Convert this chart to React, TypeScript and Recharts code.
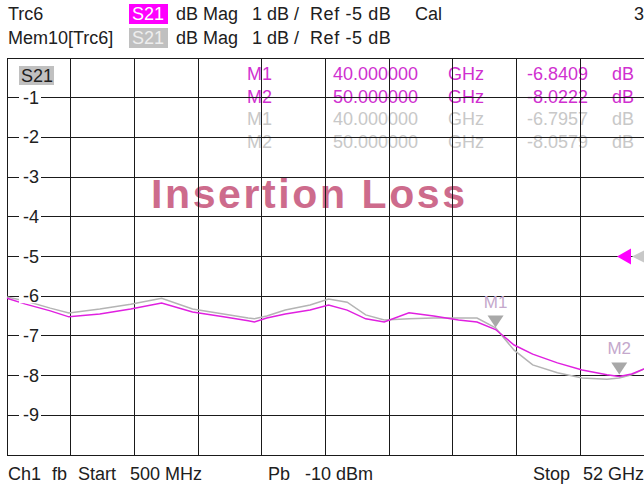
import React from 'react';
import { LineChart, Line, XAxis, YAxis, CartesianGrid, ReferenceDot } from 'recharts';

// sweep points (GHz) and the two traces (dB)
const freqGHz = [0.5, 2, 4, 5.5, 8, 10.5, 13, 15.5, 18, 20, 20.5, 21.5, 23, 25, 26.5, 28, 29.5, 31, 33, 35, 37, 38.5, 40, 41.5, 43, 45, 47, 49, 50, 51, 52];
const trc6 = [-6.05, -6.2, -6.37, -6.52, -6.45, -6.32, -6.17, -6.4, -6.52, -6.62, -6.65, -6.55, -6.45, -6.35, -6.22, -6.35, -6.57, -6.65, -6.42, -6.5, -6.6, -6.65, -6.84, -7.23, -7.46, -7.68, -7.86, -7.98, -8.02, -7.96, -7.83];
const mem10 = [-6.02, -6.12, -6.3, -6.42, -6.32, -6.2, -6.05, -6.32, -6.45, -6.55, -6.57, -6.5, -6.35, -6.22, -6.07, -6.15, -6.47, -6.6, -6.57, -6.55, -6.55, -6.55, -6.8, -7.36, -7.73, -7.93, -8.06, -8.09, -8.06, -7.98, -7.83];

const markerNames = ['M1', 'M2'];
const markerFreq = [40, 50];
const trcMarkerDb = [-6.8409, -8.0222];
const memMarkerDb = [-6.7957, -8.0579];

const xGrid = [0.5, 5.65, 10.8, 15.95, 21.1, 26.25, 31.4, 36.55, 41.7, 46.85, 52];
const yTicks = [-10, -9, -8, -7, -6, -5, -4, -3, -2, -1, 0];
const refLevel = -5;

const rows = freqGHz.map((f, i) => ({ f, trc: trc6[i], mem: mem10[i] }));

const FONT = '"Liberation Sans", Arial, sans-serif';
const MAGENTA = '#e020e0';
const GREY = '#b4b4b4';
const PLOT_LEFT = 7;

const YTick = (props: any) => {
  const v = props.payload?.value;
  if (v === 0 || v === -10) return null;
  const y = props.y;
  return (
    <g>
      <rect x={PLOT_LEFT + 12} y={y - 7} width={22} height={14} fill="#fff" />
      <text x={PLOT_LEFT + 16} y={y + 6} fontSize={18} fontFamily={FONT} fill="#202020">{v}</text>
    </g>
  );
};

const NoTick = () => <g />;

const markerShape = (label: string) => (p: any) => (
  <g>
    <text x={p.cx} y={p.cy - 22} textAnchor="middle" fontSize={17} fontFamily={FONT} fill="#c4a8cc">{label}</text>
    <path d={`M${p.cx - 8},${p.cy - 14} L${p.cx + 8},${p.cy - 14} L${p.cx},${p.cy - 2} Z`} fill="#a8a8a8" />
  </g>
);

const refArrow = (p: any) => (
  <g>
    <path d={`M${p.cx - 12},${p.cy} L${p.cx + 4},${p.cy - 8} L${p.cx + 4},${p.cy + 8} Z`} fill="#c8c8c8" />
    <path d={`M${p.cx - 27},${p.cy} L${p.cx - 13},${p.cy - 8} L${p.cx - 13},${p.cy + 8} Z`} fill="#ff00ff" />
  </g>
);

const tableRows = [
  { name: markerNames[0], f: markerFreq[0], v: trcMarkerDb[0], color: '#d030d0', y: 80 },
  { name: markerNames[1], f: markerFreq[1], v: trcMarkerDb[1], color: '#d030d0', y: 103 },
  { name: markerNames[0], f: markerFreq[0], v: memMarkerDb[0], color: '#c8c8c8', y: 125 },
  { name: markerNames[1], f: markerFreq[1], v: memMarkerDb[1], color: '#c8c8c8', y: 148 },
];

export default function App() {
  const t = { fontFamily: FONT, fontSize: 18, fill: '#202020' };
  return (
    <div style={{ position: 'absolute', left: 0, top: 0, width: 644, height: 486, background: '#fff', overflow: 'hidden' }}>
      <svg width={644} height={486} style={{ position: 'absolute', left: 0, top: 0 }}>
        <text x={8} y={20} {...t}>Trc6</text>
        <rect x={129} y={4} width={39} height={20} fill="#ff00ff" />
        <text x={132} y={20} {...t} fill="#fff">S21</text>
        <text x={176} y={20} {...t}>dB Mag</text>
        <text x={252} y={20} {...t}>1 dB /</text>
        <text x={310} y={20} {...t} letterSpacing={0.6}>Ref -5 dB</text>
        <text x={415} y={20} {...t}>Cal</text>
        <text x={634} y={20} {...t}>3</text>
        <text x={8} y={44} {...t}>Mem10[Trc6]</text>
        <rect x={129} y={28} width={39} height={20} fill="#c0c0c0" />
        <text x={132} y={44} {...t} fill="#eee">S21</text>
        <text x={176} y={44} {...t}>dB Mag</text>
        <text x={252} y={44} {...t}>1 dB /</text>
        <text x={310} y={44} {...t} letterSpacing={0.6}>Ref -5 dB</text>

        <rect x={19} y={66} width={35} height={19} fill="#c0c0c0" />
        <text x={21} y={82} {...t}>S21</text>

        {tableRows.map((r, i) => (
          <g key={i} fontFamily={FONT} fontSize={18} fill={r.color}>
            <text x={247} y={r.y}>{r.name}</text>
            <text x={333} y={r.y}>{r.f.toFixed(6)}</text>
            <text x={448} y={r.y}>GHz</text>
            <text x={527} y={r.y}>{r.v.toFixed(4)}</text>
            <text x={612} y={r.y}>dB</text>
          </g>
        ))}

        <text x={151} y={208} fontFamily={FONT} fontSize={41} fontWeight="bold" letterSpacing={2.6} fill="#cd6b8c">Insertion Loss</text>

        <text x={8} y={480} {...t}>Ch1</text>
        <text x={52} y={480} {...t}>fb</text>
        <text x={78} y={480} {...t}>Start</text>
        <text x={130} y={480} {...t}>500 MHz</text>
        <text x={268} y={480} {...t}>Pb</text>
        <text x={305} y={480} {...t}>-10 dBm</text>
        <text x={533} y={480} {...t}>Stop</text>
        <text x={583} y={480} {...t}>52 GHz</text>
      </svg>
      <div style={{ position: 'absolute', left: 0, top: 0 }}>
        <LineChart width={644} height={486} data={rows} margin={{ top: 58, right: 0, left: PLOT_LEFT, bottom: 31 }}>
          <CartesianGrid stroke="#1a1a1a" strokeWidth={1} shapeRendering="crispEdges" />
          <XAxis type="number" dataKey="f" domain={[0.5, 52]} ticks={xGrid} interval={0} mirror height={20} tick={<NoTick />} axisLine={false} tickLine={false} />
          <YAxis type="number" domain={[-10, 0]} ticks={yTicks} interval={0} mirror width={40} axisLine={false} tickLine={false} tick={<YTick />} />
          <Line dataKey="mem" stroke={GREY} strokeWidth={1.5} dot={false} activeDot={false} isAnimationActive={false} type="linear" />
          <Line dataKey="trc" stroke={MAGENTA} strokeWidth={1.5} dot={false} activeDot={false} isAnimationActive={false} type="linear" />
          {markerFreq.map((f, i) => (
            <ReferenceDot key={i} x={f} y={trcMarkerDb[i]} r={0} shape={markerShape(markerNames[i])} />
          ))}
          <ReferenceDot x={52} y={refLevel} r={0} shape={refArrow} />
        </LineChart>
      </div>
    </div>
  );
}
